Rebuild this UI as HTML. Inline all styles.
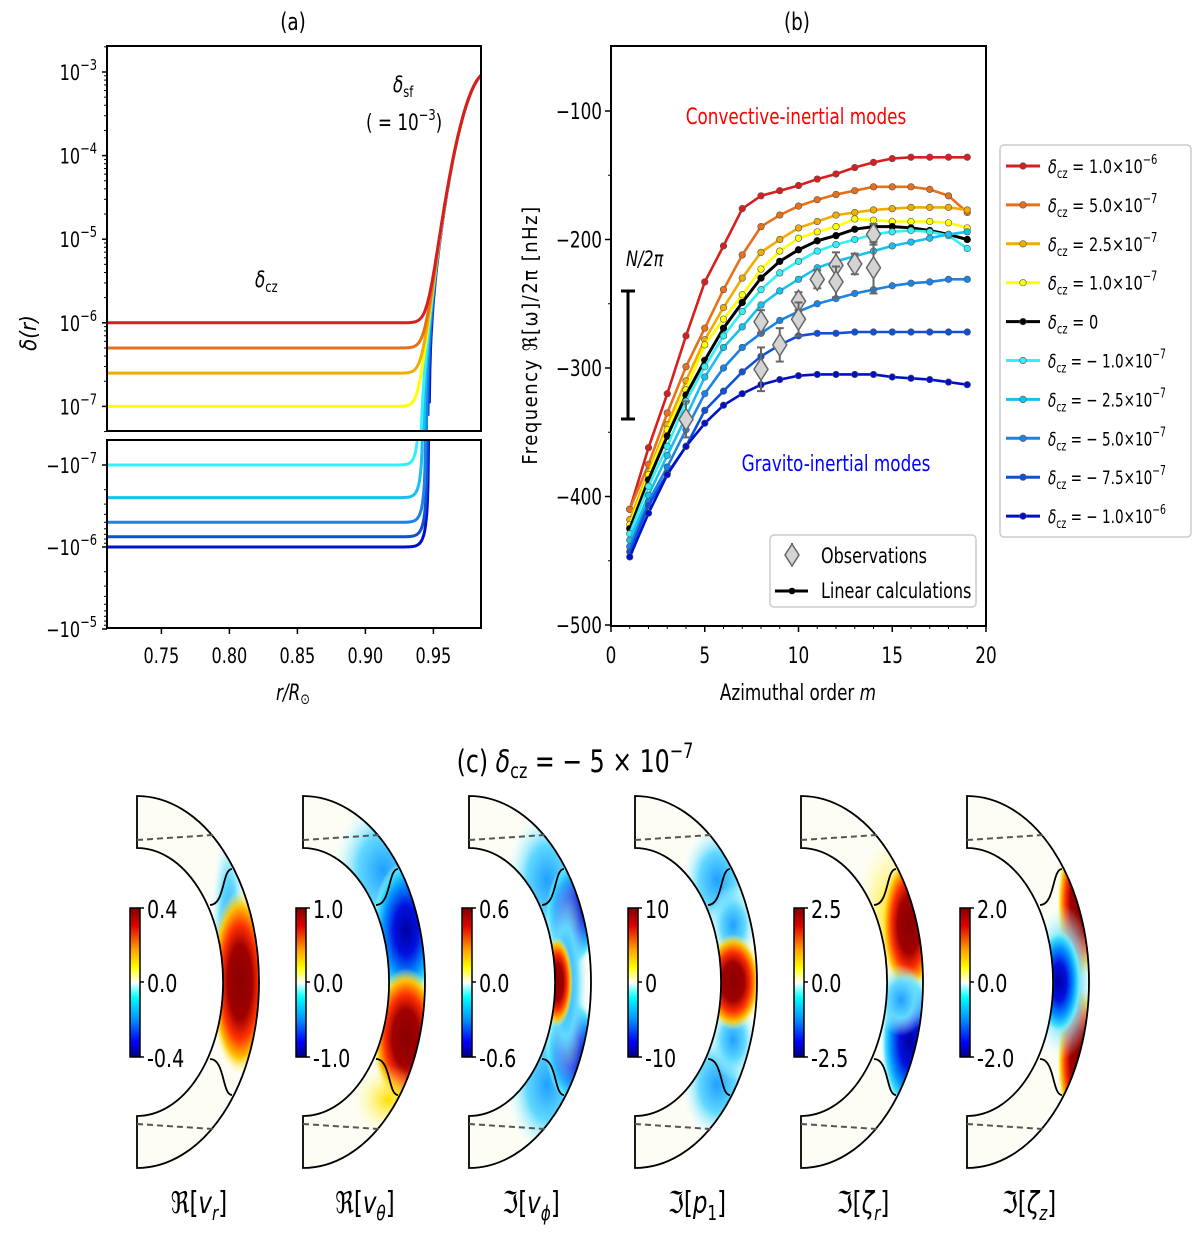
<!DOCTYPE html>
<html><head><meta charset="utf-8">
<style>
html,body{margin:0;padding:0;background:#fff;}
svg{display:block;font-family:"Liberation Sans Narrow","DejaVu Sans Condensed","DejaVu Sans","Liberation Sans",sans-serif;}
</style></head>
<body>
<svg id="fig" width="1200" height="1233" viewBox="0 0 1200 1233" xmlns="http://www.w3.org/2000/svg">
<defs>
<linearGradient id="cbar" x1="0" y1="0" x2="0" y2="1">
<stop offset="0" stop-color="#800000"/><stop offset="0.12" stop-color="#e00000"/><stop offset="0.28" stop-color="#ffa000"/><stop offset="0.4" stop-color="#ffff00"/><stop offset="0.5" stop-color="#ffffff"/><stop offset="0.6" stop-color="#00ffff"/><stop offset="0.75" stop-color="#0090ff"/><stop offset="0.9" stop-color="#0000ff"/><stop offset="1" stop-color="#000080"/>
</linearGradient>
<radialGradient id="gRed"><stop offset="0" stop-color="#8b0000"/><stop offset="0.4" stop-color="#a00000"/><stop offset="0.62" stop-color="#ff3000"/><stop offset="0.82" stop-color="#ffc000"/><stop offset="1" stop-color="#ffff80" stop-opacity="0"/></radialGradient>
<radialGradient id="gBlue"><stop offset="0" stop-color="#0000a0"/><stop offset="0.35" stop-color="#0010e0"/><stop offset="0.65" stop-color="#0090ff"/><stop offset="0.85" stop-color="#40e0ff"/><stop offset="1" stop-color="#c0ffff" stop-opacity="0"/></radialGradient>
<radialGradient id="gCyan"><stop offset="0" stop-color="#20a0ff"/><stop offset="0.5" stop-color="#60d8ff"/><stop offset="1" stop-color="#d0ffff" stop-opacity="0"/></radialGradient>
<radialGradient id="gYel"><stop offset="0" stop-color="#ffe000"/><stop offset="1" stop-color="#ffffa0" stop-opacity="0"/></radialGradient>
</defs>
<g id="panelA"></g>
<g id="panelB"></g>
<g id="panelC"></g>
</svg>
<script>
// ===== Panel (b) data =====
const mValues = [1,2,3,4,5,6,7,8,9,10,11,12,13,14,15,16,17,18,19];
const seriesLabels = ["1.0 × 10","5.0 × 10","2.5 × 10","1.0 × 10","0","− 1.0 × 10","− 2.5 × 10","− 5.0 × 10","− 7.5 × 10","− 1.0 × 10"];
const seriesExp = ["−6","−7","−7","−7","","−7","−7","−7","−7","−6"];
const seriesColors = ["#d81e1e","#e8701a","#f0ac00","#ffff00","#000000","#30f0f8","#18c0f0","#1a84e6","#1050d8","#0010c8"];
const sRed =    [-410,-362,-320,-275,-233,-205,-176,-166,-162,-158,-153,-149,-144,-140,-137,-136,-136,-136,-136];
const sOrange = [-410,-375,-335,-299,-269,-239,-212,-190,-181,-174,-169,-165,-162,-159,-159,-159,-161,-166,-179];
const sAmber =  [-418,-381,-344,-310,-278,-253,-230,-210,-200,-191,-186,-181,-179,-177,-176,-175,-175,-175,-177];
const sYellow = [-422,-383,-348,-317,-282,-262,-243,-223,-209,-199,-194,-190,-184,-185,-186,-186,-186,-187,-191];
const sBlack =  [-425,-387,-353,-321,-294,-269,-249,-230,-217,-208,-201,-197,-192,-190,-190,-191,-193,-196,-200];
const sCyan =   [-429,-392,-361,-326,-299,-275,-256,-239,-226,-217,-209,-204,-200,-196,-194,-193,-194,-197,-207];
const sSky =    [-434,-399,-368,-338,-307,-284,-268,-251,-240,-231,-222,-217,-213,-209,-205,-202,-199,-196,-194];
const sMid =    [-439,-404,-377,-348,-320,-300,-284,-273,-263,-256,-250,-246,-242,-239,-236,-234,-233,-231,-231];
const sDeep =   [-443,-407,-382,-361,-333,-318,-303,-291,-282,-275,-273,-273,-272,-272,-272,-272,-272,-272,-272];
const sNavy =   [-447,-413,-383,-361,-343,-329,-320,-313,-309,-306,-305,-305,-305,-305,-307,-308,-309,-311,-313];
const allSeries = [sRed,sOrange,sAmber,sYellow,sBlack,sCyan,sSky,sMid,sDeep,sNavy];
const obsM =   [4,8,8,9,10,10,11,12,12,13,14,14];
const obsVal = [-340,-264,-301,-282,-248,-262,-231,-220,-233,-219,-196,-222];
const obsErr = [14,9,17,13,7,13,7,10,12,8,8,20];
const bYTicks = [-100,-200,-300,-400,-500];
const bXTicks = [0,5,10,15,20];
// ===== Panel (a) data =====
const czValues = [1e-6,5e-7,2.5e-7,1e-7,-1e-7,-2.5e-7,-5e-7,-7.5e-7,-1e-6];
const czColors = ["#d81e1e","#e8701a","#f0ac00","#ffff00","#30f0f8","#18c0f0","#1a84e6","#1050d8","#0010c8"];
const aXTicks = [0.75,0.80,0.85,0.90,0.95];
const aUpTicks = [-3,-4,-5,-6,-7];
const aLoTicks = [-7,-6,-5];
const deltaSF = 1e-3;

const NS="http://www.w3.org/2000/svg";
function mk(parent, tag, attrs, text){const e=document.createElementNS(NS,tag);for(const k in attrs)e.setAttribute(k,attrs[k]);if(text!==undefined)e.textContent=text;parent.appendChild(e);return e;}

// ---------- Panel A ----------
const A=document.getElementById('panelA');
const aL=107,aR=481,uT=46,uB=431,lT=440,lB=628;
const ax=r=>aL+(r-0.71)/(0.985-0.71)*(aR-aL);
const ayU=v=>72+(-3-Math.log10(v))*83.6;
const ayL=v=>465+(Math.log10(-v)+7)*82;
let t=mk(A,'text',{x:293,y:30,'font-size':24,'text-anchor':'middle'},'(a)');

mk(A,'clipPath',{id:'clipU'}); mk(document.getElementById('clipU'),'rect',{x:aL,y:uT,width:aR-aL,height:uB-uT});
mk(A,'clipPath',{id:'clipL'}); mk(document.getElementById('clipL'),'rect',{x:aL,y:lT,width:aR-aL,height:lB-lT});
function prof(d,r){return d+deltaSF*Math.exp(-Math.pow((0.99-r)/0.0165,2));}
const order=[8,7,6,5,4,3,2,1,0];
order.forEach(i=>{
  const d=czValues[i];
  let pu='',pl='';
  for(let k=0;k<=600;k++){const r=0.71+k*(0.275/600);const v=prof(d,r);
    if(v>0){pu+=(pu?'L':'M')+ax(r).toFixed(1)+' '+Math.min(ayU(v),uB+20).toFixed(1);}
    else{pl+=(pl?'L':'M')+ax(r).toFixed(1)+' '+Math.max(ayL(v),lT-20).toFixed(1);}
  }
  const g1=mk(A,'path',{d:pu,fill:'none',stroke:czColors[i],'stroke-width':3,'clip-path':'url(#clipU)'});
  
  if(pl){const g2=mk(A,'path',{d:pl,fill:'none',stroke:czColors[i],'stroke-width':3,'clip-path':'url(#clipL)'});
  }
});
let bx=mk(A,'rect',{x:aL,y:uT,width:aR-aL,height:uB-uT,fill:'none',stroke:'#000','stroke-width':2});

bx=mk(A,'rect',{x:aL,y:lT,width:aR-aL,height:lB-lT,fill:'none',stroke:'#000','stroke-width':2});

aUpTicks.forEach(e=>{const y=ayU(Math.pow(10,e));mk(A,'line',{x1:aL-5,x2:aL,y1:y,y2:y,stroke:'#000','stroke-width':1.5});
  const tx=mk(A,'text',{x:aL-10,y:y+8,'font-size':21,'text-anchor':'end'});mk(tx,'tspan',{},'10');mk(tx,'tspan',{dy:-10,'font-size':15},'−'+(-e));
  
  for(let m=2;m<10;m++){const yy=ayU(m*Math.pow(10,e));if(yy>uT&&yy<uB)mk(A,'line',{x1:aL-3,x2:aL,y1:yy,y2:yy,stroke:'#000','stroke-width':1});}
});
mk(A,'line',{x1:aL-3,x2:aL,y1:ayU(5e-8),y2:ayU(5e-8),stroke:'#000'});
aLoTicks.forEach(e=>{const y=ayL(-Math.pow(10,e));mk(A,'line',{x1:aL-5,x2:aL,y1:y,y2:y,stroke:'#000','stroke-width':1.5});
  const tx=mk(A,'text',{x:aL-10,y:y+8,'font-size':21,'text-anchor':'end'});mk(tx,'tspan',{},'−10');mk(tx,'tspan',{dy:-10,'font-size':15},'−'+(-e));
  
  for(let m=2;m<10;m++){const yy=ayL(-m*Math.pow(10,e));if(yy>lT&&yy<lB)mk(A,'line',{x1:aL-3,x2:aL,y1:yy,y2:yy,stroke:'#000','stroke-width':1});}
});
aXTicks.forEach(v=>{const x=ax(v);mk(A,'line',{x1:x,x2:x,y1:lB,y2:lB+6,stroke:'#000','stroke-width':1.5});
  const tx=mk(A,'text',{x:x,y:lB+35,'font-size':21,'text-anchor':'middle'},v.toFixed(2));});
t=mk(A,'text',{x:293,y:700,'font-size':22,'text-anchor':'middle','font-style':'italic'},'r/R');mk(t,'tspan',{'font-size':15,dy:4,'font-style':'normal'},'⊙');

t=mk(A,'text',{x:0,y:0,'font-size':22,'text-anchor':'middle','font-style':'italic',transform:'translate(36,333) rotate(-90)'},'δ(r)');

t=mk(A,'text',{x:255,y:287,'font-size':22,'font-style':'italic'},'δ');mk(t,'tspan',{'font-size':15,dy:5,'font-style':'normal'},'cz');

t=mk(A,'text',{x:393,y:92,'font-size':22,'font-style':'italic'},'δ');mk(t,'tspan',{'font-size':15,dy:5,'font-style':'normal'},'sf');

t=mk(A,'text',{x:366,y:130,'font-size':22},'( = 10');mk(t,'tspan',{'font-size':15,dy:-10},'−3');mk(t,'tspan',{dy:10},')');


// ---------- Panel B ----------
const B=document.getElementById('panelB');
const bL=611,bR=986,bT=46,bB=626;
const bx_=m=>bL+m/20*(bR-bL);
const by_=v=>111+(-100-v)*1.285;
t=mk(B,'text',{x:797,y:30,'font-size':24,'text-anchor':'middle'},'(b)');
allSeries.forEach((s,i)=>{
  const d=s.map((v,k)=>(k?'L':'M')+bx_(mValues[k]).toFixed(1)+' '+by_(v).toFixed(1)).join('');
  const p=mk(B,'path',{d:d,fill:'none',stroke:seriesColors[i],'stroke-width':i===4?3:2.6});
  
  s.forEach((v,k)=>{const c=mk(B,'circle',{cx:bx_(mValues[k]),cy:by_(v),r:3.3,fill:seriesColors[i],stroke:i===4?'#000':'#555','stroke-width':0.6});
    });
});
obsM.forEach((m,k)=>{const x=bx_(m),y=by_(obsVal[k]),e=obsErr[k]*1.285;
  mk(B,'line',{x1:x,x2:x,y1:y-e,y2:y+e,stroke:'#666','stroke-width':2});
  mk(B,'line',{x1:x-4,x2:x+4,y1:y-e,y2:y-e,stroke:'#666','stroke-width':2});
  mk(B,'line',{x1:x-4,x2:x+4,y1:y+e,y2:y+e,stroke:'#666','stroke-width':2});
  const dm=mk(B,'path',{d:`M${x} ${y-11}L${x+7} ${y}L${x} ${y+11}L${x-7} ${y}Z`,fill:'#d4d4d4',stroke:'#666','stroke-width':1.5});
  
});
bx=mk(B,'rect',{x:bL,y:bT,width:bR-bL,height:bB-bT,fill:'none',stroke:'#000','stroke-width':2});

bYTicks.forEach(v=>{const y=by_(v);mk(B,'line',{x1:bL-6,x2:bL,y1:y,y2:y,stroke:'#000','stroke-width':1.5});
  const tx=mk(B,'text',{x:bL-9,y:y+8,'font-size':22,'text-anchor':'end'},'−'+(-v));});
for(let v=-150;v>=-450;v-=100){const y=by_(v);mk(B,'line',{x1:bL-3,x2:bL,y1:y,y2:y,stroke:'#000'});}
for(let m=0;m<=20;m++){const x=bx_(m);mk(B,'line',{x1:x,x2:x,y1:bB,y2:bB+(m%5?3:6),stroke:'#000','stroke-width':m%5?1:1.5});}
bXTicks.forEach(m=>{const tx=mk(B,'text',{x:bx_(m),y:bB+37,'font-size':22,'text-anchor':'middle'},String(m));});
t=mk(B,'text',{x:798,y:700,'font-size':22,'text-anchor':'middle'},'Azimuthal order ');mk(t,'tspan',{'font-style':'italic'},'m');

t=mk(B,'text',{x:0,y:0,'font-size':20,'text-anchor':'middle','letter-spacing':'1.5',transform:'translate(537,335) rotate(-90)'},'Frequency ℜ[ω]/2π [nHz]');

t=mk(B,'text',{x:796,y:124,'font-size':22,'text-anchor':'middle',fill:'#ff0000'},'Convective-inertial modes');

t=mk(B,'text',{x:836,y:471,'font-size':22,'text-anchor':'middle',fill:'#0000ff'},'Gravito-inertial modes');

mk(B,'line',{x1:628,x2:628,y1:291,y2:419,stroke:'#000','stroke-width':3});
mk(B,'line',{x1:621,x2:635,y1:291,y2:291,stroke:'#000','stroke-width':3});
mk(B,'line',{x1:621,x2:635,y1:419,y2:419,stroke:'#000','stroke-width':3});
t=mk(B,'text',{x:626,y:266,'font-size':21,'font-style':'italic'},'N/2π');
const lg=mk(B,'g',{});
mk(lg,'rect',{x:770,y:535,width:206,height:72,rx:4,fill:'#fff',stroke:'#ccc','stroke-width':1.5});
mk(lg,'line',{x1:792,x2:792,y1:543,y2:566,stroke:'#666','stroke-width':2});
mk(lg,'path',{d:'M792 544L799 555L792 566L785 555Z',fill:'#d4d4d4',stroke:'#666','stroke-width':1.5});
mk(lg,'text',{x:821,y:563,'font-size':21},'Observations');
mk(lg,'line',{x1:775,x2:808,y1:591,y2:591,stroke:'#000','stroke-width':3});
mk(lg,'circle',{cx:792,cy:591,r:3.3,fill:'#000'});
mk(lg,'text',{x:821,y:598,'font-size':21},'Linear calculations');
const sl=mk(B,'g',{});
mk(sl,'rect',{x:1000,y:145,width:191,height:392,rx:4,fill:'#fff',stroke:'#ccc','stroke-width':1.5});
seriesLabels.forEach((lab,i)=>{const y=166+i*38.9;
  mk(sl,'line',{x1:1006,x2:1040,y1:y,y2:y,stroke:seriesColors[i],'stroke-width':3});
  mk(sl,'circle',{cx:1023,cy:y,r:3.3,fill:seriesColors[i],stroke:'#555','stroke-width':0.6});
  const tx=mk(sl,'text',{x:1048,y:y+7,'font-size':19});
  mk(tx,'tspan',{'font-style':'italic'},'δ');mk(tx,'tspan',{'font-size':13,dy:5},'cz');
  mk(tx,'tspan',{dy:-5},' = '+lab.replace(/ × /,'×'));if(seriesExp[i])mk(tx,'tspan',{dy:-9,'font-size':13},seriesExp[i]);
  tx.setAttribute('data-fit','118');
});

// ---------- Panel C ----------
const C=document.getElementById('panelC');
t=mk(C,'text',{x:575,y:772,'font-size':31,'text-anchor':'middle'},'(c) ');mk(t,'tspan',{'font-style':'italic'},'δ');mk(t,'tspan',{'font-size':21,dy:6},'cz');
mk(t,'tspan',{dy:-6},' = − 5 × 10');mk(t,'tspan',{dy:-14,'font-size':21},'−7');

const plotX=[137,303,469,635,801,967];
const cbTop=["0.4","1.0","0.6","10","2.5","2.0"];
const cbMid=["0.0","0.0","0.0","0","0.0","0.0"];
const cbBot=["-0.4","-1.0","-0.6","-10","-2.5","-2.0"];
const names=[["ℜ","v","r"],["ℜ","v","θ"],["ℑ","v","ϕ"],["ℑ","p","1"],["ℑ","ζ","r"],["ℑ","ζ","z"]];
const blobs=[
 [[92,935,18,110,'gCyan'],[103,982,30,92,'gRed']],
 [[80,870,50,70,'gCyan'],[103,930,34,70,'gBlue'],[103,1038,34,70,'gRed'],[85,1100,35,35,'gYel']],
 [[78,880,40,70,'gCyan'],[78,1085,40,70,'gCyan'],[103,915,26,52,'gBlue'],[103,1050,26,52,'gBlue'],[97,982,22,110,'gCyan'],[88,982,16,45,'gRed']],
 [[82,880,35,55,'gCyan'],[82,1085,35,55,'gCyan'],[98,925,24,40,'gCyan'],[98,1040,24,40,'gCyan'],[98,982,28,48,'gRed']],
 [[90,915,35,80,'gYel'],[108,925,28,70,'gRed'],[108,1042,28,70,'gBlue'],[100,1000,26,36,'gCyan']],
 [[112,905,22,75,'gRed'],[112,1060,22,75,'gRed'],[95,982,32,78,'gCyan'],[92,982,22,52,'gBlue']]
];
const cy=982,Ro=186,Ri=134,sx=122/186;
plotX.forEach((x0,i)=>{
  const g=mk(C,'g',{});
  const shell=`M${x0} ${cy-Ro}A${Ro*sx} ${Ro} 0 0 1 ${x0} ${cy+Ro}L${x0} ${cy+Ri}A${Ri*sx*0.98} ${Ri} 0 0 0 ${x0} ${cy-Ri}Z`;
  const cid='shell'+i;const cp=mk(C,'clipPath',{id:cid});mk(cp,'path',{d:shell});
  mk(g,'path',{d:shell,fill:'#fdfdf6'});
  const bg=mk(g,'g',{'clip-path':`url(#${cid})`});
  blobs[i].forEach(b=>mk(bg,'ellipse',{cx:x0+b[0],cy:b[1],rx:b[2],ry:b[3],fill:`url(#${b[4]})`}));
  mk(g,'path',{d:shell,fill:'none',stroke:'#000','stroke-width':1.8});
  mk(g,'path',{d:`M${x0+73} ${cy-77}C${x0+88} ${cy-77} ${x0+85} ${cy-113} ${x0+95} ${cy-113}`,fill:'none',stroke:'#000','stroke-width':1.8});
  mk(g,'path',{d:`M${x0+73} ${cy+77}C${x0+88} ${cy+77} ${x0+85} ${cy+113} ${x0+95} ${cy+113}`,fill:'none',stroke:'#000','stroke-width':1.8});
  mk(g,'line',{x1:x0,y1:840,x2:x0+76,y2:835,stroke:'#555','stroke-width':2,'stroke-dasharray':'6,4'});
  mk(g,'line',{x1:x0,y1:1124,x2:x0+76,y2:1129,stroke:'#555','stroke-width':2,'stroke-dasharray':'6,4'});
  const cb=mk(g,'rect',{x:x0-7,y:908,width:10,height:149,fill:'url(#cbar)',stroke:'#000','stroke-width':1.5});
  
  [[908,cbTop[i]],[982,cbMid[i]],[1057,cbBot[i]]].forEach(([y,l])=>{mk(g,'line',{x1:x0+3,x2:x0+7,y1:y,y2:y,stroke:'#000','stroke-width':1.5});
    mk(g,'text',{x:x0+10,y:y+10,'font-size':25},l);});
  const nm=names[i];const tx=mk(g,'text',{x:x0+62,y:1213,'font-size':30,'text-anchor':'middle'},nm[0]+'[');
  mk(tx,'tspan',{'font-style':'italic'},nm[1]);mk(tx,'tspan',{'font-size':20,dy:7,'font-style':nm[2]==='1'?'normal':'italic'},nm[2]);mk(tx,'tspan',{dy:-7},']');
  
});

// horizontally condense all text to mimic a narrow font
document.querySelectorAll('#fig text').forEach(el=>{
  const x=parseFloat(el.getAttribute('x')||0);
  const tr=el.getAttribute('transform')||'';
  let s=0.85;
  if(el.getAttribute('data-fit')){const w=el.getComputedTextLength();const want=parseFloat(el.getAttribute('data-fit'));s=Math.min(0.85,want/w);}
  if(tr) el.setAttribute('transform',tr+` scale(1,${s})`.replace(`scale(1,${s})`,`scale(1,1)`)+'');
  else el.setAttribute('transform',`translate(${x},0) scale(${s},1) translate(${-x},0)`);
});
</script>
</body></html>
